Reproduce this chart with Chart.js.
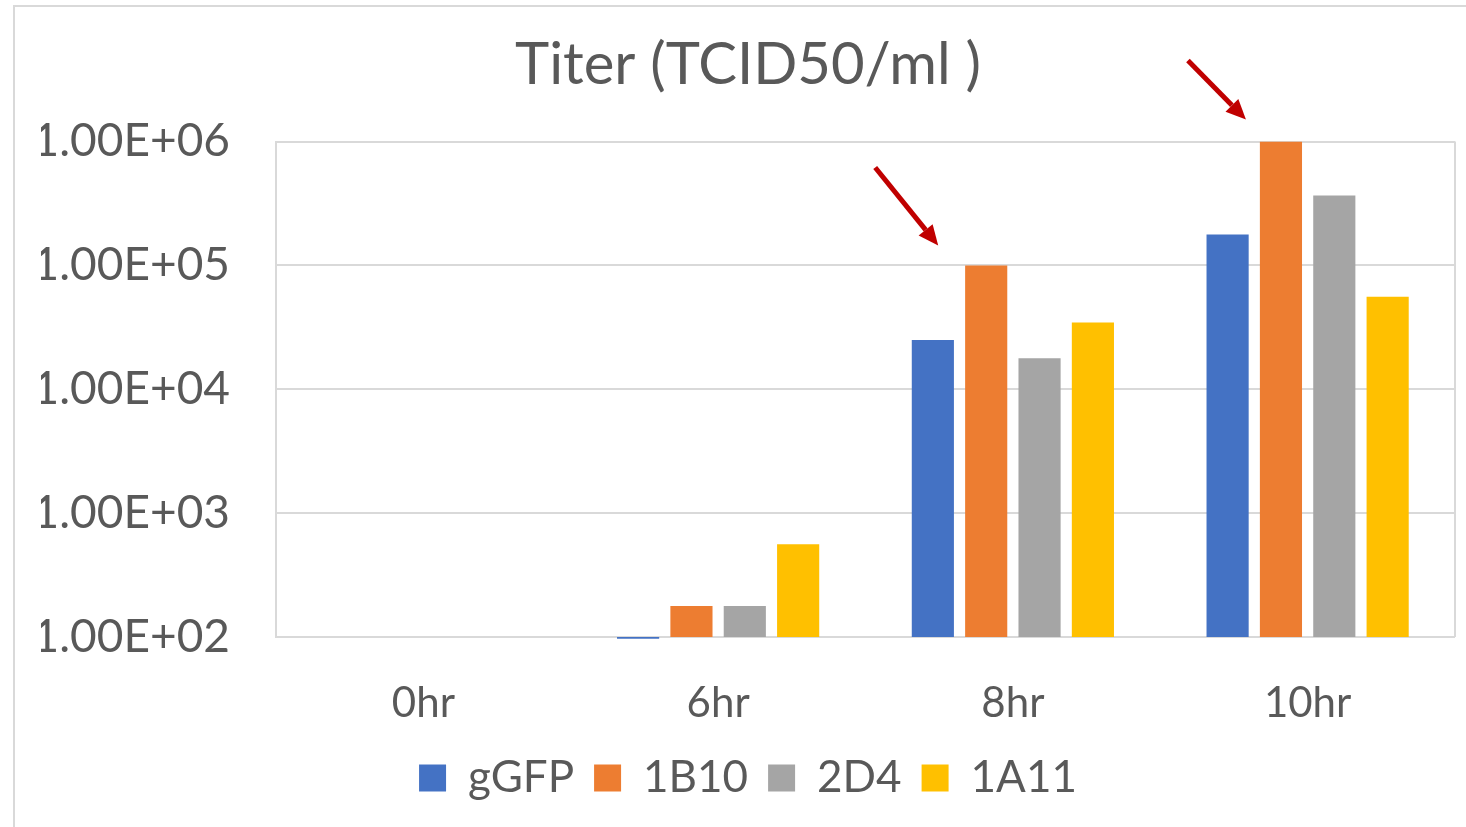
<!DOCTYPE html>
<html>
<head>
<meta charset="utf-8">
<script src="https://cdn.jsdelivr.net/npm/chart.js@4.4.1/dist/chart.umd.min.js"></script>
<style>
  html, body { margin: 0; padding: 0; background: #fff; }
  #wrap { position: relative; width: 1466px; height: 827px; overflow: hidden; }
  #frame { position: absolute; left: 13px; top: 5px; width: 1500px; height: 900px;
           border-left: 2px solid #d9d9d9; border-top: 2px solid #d9d9d9; }
  canvas { position: absolute; left: 0; top: 0; }
</style>
</head>
<body>
<div id="wrap">
  <div id="frame"></div>
  <canvas id="chart" width="1466" height="827"></canvas>
</div>
<script>
const categories = ['0hr', '6hr', '8hr', '10hr'];
const gGFP = [null, 97, 25000, 178000];
const b1B10 = [null, 178, 100000, 1000000];
const d2D4 = [null, 178, 17800, 367000];
const a1A11 = [null, 562, 34700, 56000];

const yTicks = [100, 1000, 10000, 100000, 1000000];
const yTickLabels = ['1.00E+02', '1.00E+03', '1.00E+04', '1.00E+05', '1.00E+06'];

// red arrows pointing at the 1B10 bars (offsets in px from the bar top)
const arrows = [
  { index: 2, tip: [-48, -20], tail: [-63, -78] },
  { index: 3, tip: [-35, -22], tail: [-58, -59] }
];

const textColor = '#595959';
const gridColor = '#d9d9d9';
const fontFamily = 'Lato, "Open Sans", sans-serif';

const plotBorder = {
  id: 'plotBorder',
  afterDraw(chart) {
    const { ctx, chartArea } = chart;
    ctx.save();
    ctx.strokeStyle = gridColor;
    ctx.lineWidth = 2;
    ctx.beginPath();
    ctx.moveTo(chartArea.right, chartArea.top);
    ctx.lineTo(chartArea.right, chartArea.bottom);
    ctx.stroke();
    ctx.restore();
  }
};

const arrowPlugin = {
  id: 'arrowPlugin',
  afterDatasetsDraw(chart) {
    const { ctx } = chart;
    const meta = chart.getDatasetMeta(1);
    ctx.save();
    ctx.strokeStyle = '#C00000';
    ctx.fillStyle = '#C00000';
    ctx.lineWidth = 5;
    arrows.forEach(a => {
      const bar = meta.data[a.index];
      const tx = bar.x + a.tip[0], ty = bar.y + a.tip[1];
      const sx = tx + a.tail[0], sy = ty + a.tail[1];
      const ang = Math.atan2(ty - sy, tx - sx);
      const head = 20;
      const bx = tx - head * Math.cos(ang), by = ty - head * Math.sin(ang);
      ctx.beginPath();
      ctx.moveTo(sx, sy);
      ctx.lineTo(bx, by);
      ctx.stroke();
      ctx.beginPath();
      ctx.moveTo(tx, ty);
      ctx.lineTo(bx + 9 * Math.sin(ang), by - 9 * Math.cos(ang));
      ctx.lineTo(bx - 9 * Math.sin(ang), by + 9 * Math.cos(ang));
      ctx.closePath();
      ctx.fill();
    });
    ctx.restore();
  }
};

const ctx = document.getElementById('chart').getContext('2d');

const config = {
  type: 'bar',
  data: {
    labels: categories,
    datasets: [
      { label: 'gGFP', data: gGFP, backgroundColor: '#4472C4', clip: false },
      { label: '1B10', data: b1B10, backgroundColor: '#ED7D31' },
      { label: '2D4', data: d2D4, backgroundColor: '#A5A5A5' },
      { label: '1A11', data: a1A11, backgroundColor: '#FFC000' }
    ]
  },
  options: {
    responsive: false,
    animation: false,
    layout: { padding: { left: 41, right: 11, top: 0, bottom: 17 } },
    datasets: {
      bar: { categoryPercentage: 0.724, barPercentage: 0.79 }
    },
    plugins: {
      title: {
        display: true,
        text: 'Titer (TCID50/ml )',
        color: textColor,
        font: { family: fontFamily, size: 58, weight: 'normal' },
        padding: { top: 30, bottom: 42 }
      },
      legend: {
        position: 'bottom',
        labels: {
          color: textColor,
          font: { family: fontFamily, size: 44 },
          boxWidth: 27,
          boxHeight: 27,
          padding: 20
        }
      },
      tooltip: { enabled: false }
    },
    scales: {
      x: {
        grid: { display: false },
        border: { display: false },
        ticks: { color: textColor, font: { family: fontFamily, size: 42 }, padding: 33 },
        afterFit(scale) { scale.height = 99; }
      },
      y: {
        type: 'logarithmic',
        min: 100,
        max: 1000000,
        afterBuildTicks(scale) { scale.ticks = yTicks.map(v => ({ value: v })); },
        grid: { color: gridColor, lineWidth: 2, drawTicks: false },
        border: { color: gridColor, width: 2 },
        ticks: {
          color: textColor,
          font: { family: fontFamily, size: 46 },
          padding: 46,
          callback: (v) => yTickLabels[yTicks.indexOf(v)]
        },
        afterFit(scale) { scale.width = 235; }
      }
    }
  },
  plugins: [plotBorder, arrowPlugin]
};

new Chart(ctx, config);
</script>
</body>
</html>
